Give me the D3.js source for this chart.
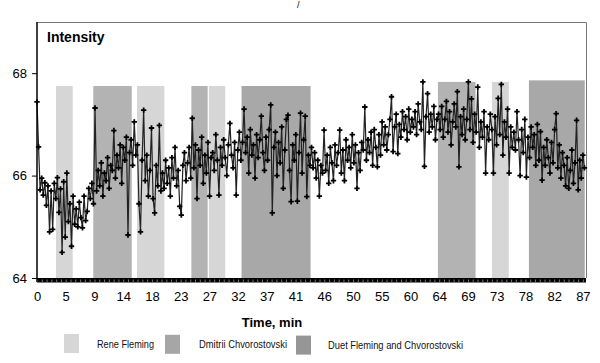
<!DOCTYPE html>
<html>
<head>
<meta charset="utf-8">
<script src="https://cdn.jsdelivr.net/npm/d3@7"></script>
<style>
  html, body { margin: 0; padding: 0; background: #fff; }
  svg { display: block; font-family: "Liberation Sans", Arial, sans-serif; }
</style>
</head>
<body>
<svg id="chart" width="600" height="363"></svg>
<script>
// ---- data ----
const sampleStepMin = 0.25;           // one reading every 15 s
const intensity = [
  67.44,66.56,65.72,65.95,65.62,65.86,65.42,65.80,64.90,65.70,64.95,65.85,65.55,65.96,65.28,65.74,
  64.50,65.88,64.80,66.05,65.10,65.45,64.62,65.60,65.05,65.35,65.00,65.48,65.18,64.98,65.60,65.12,
  65.30,65.75,65.55,65.85,65.45,67.32,65.70,66.10,65.80,66.25,65.60,66.05,65.90,66.35,65.75,66.20,
  66.10,66.88,65.95,66.40,66.15,66.60,65.85,66.55,66.30,66.75,64.84,66.45,66.70,66.20,67.05,66.40,
  66.60,65.45,64.90,66.30,67.28,65.90,66.40,65.60,66.10,66.93,65.55,65.27,66.20,65.80,66.98,65.70,
  66.05,65.75,66.30,65.85,66.15,65.60,66.35,65.95,66.55,65.80,66.10,65.40,65.23,66.20,66.45,65.90,
  66.25,66.55,65.95,67.12,66.15,66.60,65.55,66.50,66.20,66.75,65.85,66.40,66.05,66.65,65.60,66.35,
  66.45,66.10,66.80,66.30,65.62,66.55,66.20,66.70,66.35,66.00,66.60,67.02,66.40,66.15,66.65,65.62,
  66.50,66.85,66.30,66.65,67.30,66.45,66.75,66.05,66.90,66.40,66.60,65.95,66.80,66.35,66.70,67.16,
  66.45,66.10,66.75,66.30,66.90,67.38,65.27,66.55,66.85,66.00,66.65,66.25,66.95,65.75,66.50,67.10,
  67.18,66.10,65.49,66.60,66.30,66.80,65.50,66.45,67.22,66.05,66.70,67.16,65.59,66.40,66.20,66.55,
  66.15,66.45,65.95,66.30,65.60,66.20,66.05,66.89,66.10,66.40,65.85,66.55,66.25,65.90,66.60,66.20,
  66.45,66.89,66.05,66.50,65.90,66.70,66.30,66.55,66.15,66.80,66.25,66.60,65.75,66.45,66.10,66.65,
  66.50,67.34,66.30,66.70,66.45,66.85,66.20,66.90,66.55,66.17,66.80,66.40,67.05,66.60,66.95,66.50,
  66.80,67.10,67.54,66.47,66.95,67.20,66.43,67.00,66.75,67.25,66.90,67.15,66.70,67.30,66.85,67.10,
  66.95,67.25,66.80,67.40,67.05,66.90,67.83,66.18,67.15,67.60,66.85,67.20,66.95,67.35,66.70,67.10,
  67.20,66.90,67.35,66.75,67.10,67.45,66.85,67.25,66.60,67.05,67.40,66.95,67.64,66.17,67.15,66.80,
  67.30,66.70,67.10,67.83,66.90,67.50,66.65,67.20,66.85,67.73,66.55,67.05,66.75,67.25,66.05,66.95,
  66.70,67.20,66.90,66.05,67.15,66.60,67.51,66.80,67.78,66.40,67.05,66.75,67.30,66.05,66.95,66.55,
  66.85,66.50,67.25,66.70,66.00,66.90,66.45,67.10,65.97,66.75,66.35,66.95,66.55,66.80,66.20,67.00,
  66.30,66.86,65.91,66.55,66.20,66.70,66.35,66.05,66.65,66.25,66.90,67.21,66.15,66.60,65.95,66.45,
  66.20,65.80,66.35,65.75,66.10,66.50,65.85,66.25,67.08,65.72,66.30,65.95,66.40,66.15
];

// performance segments (minutes); top = shading height in intensity units
const segStart = [3.03, 8.97, 15.94, 24.6, 27.4, 32.6, 63.9, 72.5, 78.4];
const segEnd   = [5.69, 15.1, 20.3, 27.2, 30.0, 43.6, 69.9, 75.2, 87.3];
const segTop   = [67.75, 67.75, 67.75, 67.75, 67.75, 67.75, 67.83, 67.83, 67.86];
const segType  = [0, 1, 0, 1, 0, 2, 1, 0, 2];

const performers = ["Rene Fleming", "Dmitrii Chvorostovski", "Duet Fleming and Chvorostovski"];
const yTicks = [64, 66, 68];
const xTickCount = 20;      // labels placed every 87/19 min
const xLastLabel = 87;

// ---- style ----
const bandFill   = ["#d6d6d6", "#b3b3b3", "#a8a8a8"];
const legendFill = ["#d6d6d6", "#a6a6a6", "#969696"];

const svg = d3.select("#chart");
const m = { left: 37, right: 586, top: 22, bottom: 278 };

const x = d3.scaleLinear().domain([0, 87.5]).range([m.left, m.right]);
const y = d3.scaleLinear().domain([64, 69]).range([m.bottom, m.top]);

// frame (top/right thin gray)
svg.append("path")
  .attr("d", `M${m.left},${m.top + 0.5}H${m.right + 0.5}V${m.bottom}`)
  .attr("fill", "none").attr("stroke", "#777").attr("stroke-width", 1);

// bands
const segs = segStart.map((s, i) => ({ s, e: segEnd[i], top: segTop[i], type: segType[i] }));
svg.append("g").selectAll("rect").data(segs).join("rect")
  .attr("x", d => x(d.s))
  .attr("width", d => x(d.e) - x(d.s))
  .attr("y", d => y(d.top))
  .attr("height", d => y(64) - y(d.top))
  .attr("fill", d => bandFill[d.type]);

// series
const pts = intensity.map((v, i) => ({ t: i * sampleStepMin, v }));
svg.append("path")
  .datum(pts)
  .attr("fill", "none")
  .attr("stroke", "#222")
  .attr("stroke-width", 1.2)
  .attr("d", d3.line().x(d => x(d.t)).y(d => y(d.v)));

const sym = d3.symbol().type(d3.symbolCross).size(16);
svg.append("g").selectAll("path").data(pts).join("path")
  .attr("transform", d => `translate(${x(d.t)},${y(d.v)})`)
  .attr("d", sym)
  .attr("fill", "#000");

// x axis: thick black strip with light notches
const xTickVals = d3.range(xTickCount).map(i => i * xLastLabel / (xTickCount - 1));
svg.append("rect")
  .attr("x", m.left).attr("y", m.bottom)
  .attr("width", m.right - m.left).attr("height", 4.5)
  .attr("fill", "#000");
const minorVals = d3.range((xTickCount - 1) * 6 + 1).map(i => i * xLastLabel / ((xTickCount - 1) * 6));
svg.append("g").selectAll("line").data(minorVals).join("line")
  .attr("x1", d => x(d) + 0.5).attr("x2", d => x(d) + 0.5)
  .attr("y1", m.bottom + 1.5).attr("y2", m.bottom + 4)
  .attr("stroke", "#777").attr("stroke-width", 1);

const xAxis = d3.axisBottom(x).tickValues(xTickVals)
  .tickFormat(d => d3.format(".0f")(Math.round(d))).tickSize(0).tickPadding(10);
const gx = svg.append("g").attr("transform", `translate(0,${m.bottom + 4})`).call(xAxis);
gx.select(".domain").remove();
gx.selectAll("text").attr("font-size", 13).attr("fill", "#000")
  .attr("font-family", "Liberation Sans, Arial, sans-serif");

// y axis
const yAxis = d3.axisLeft(y).tickValues(yTicks).tickFormat(d3.format("d")).tickSize(5).tickPadding(5);
const gy = svg.append("g").attr("transform", `translate(${m.left},0)`).call(yAxis);
gy.select(".domain").attr("stroke", "#000").attr("stroke-width", 1.5)
  .attr("d", `M0,${m.top}V${m.bottom + 4}`);
gy.selectAll(".tick line").attr("stroke", "#000");
gy.selectAll("text").attr("font-size", 13).attr("fill", "#000")
  .attr("font-family", "Liberation Sans, Arial, sans-serif");

// titles
svg.append("text").attr("x", 47).attr("y", 42)
  .attr("font-size", 14).attr("font-weight", "bold").text("Intensity");
svg.append("text").attr("x", 272).attr("y", 327).attr("text-anchor", "middle")
  .attr("font-size", 13).attr("font-weight", "bold").text("Time, min");
svg.append("text").attr("x", 297).attr("y", 8).attr("font-size", 9).text("/");

// legend
const legX = [64, 165, 296];
const legTextX = [97, 199, 328];
const legTextW = [57, 88, 135];
const leg = svg.append("g").selectAll("g").data(performers).join("g");
leg.append("rect")
  .attr("x", (d, i) => legX[i]).attr("y", (d, i) => 334 + i * 0.8)
  .attr("width", 15).attr("height", 19)
  .attr("fill", (d, i) => legendFill[i]);
leg.append("text")
  .attr("x", (d, i) => legTextX[i]).attr("y", (d, i) => 347.5 + i * 0.5)
  .attr("font-size", 11).attr("fill", "#111")
  .attr("textLength", (d, i) => legTextW[i])
  .attr("lengthAdjust", "spacingAndGlyphs")
  .text(d => d);
</script>
</body>
</html>
